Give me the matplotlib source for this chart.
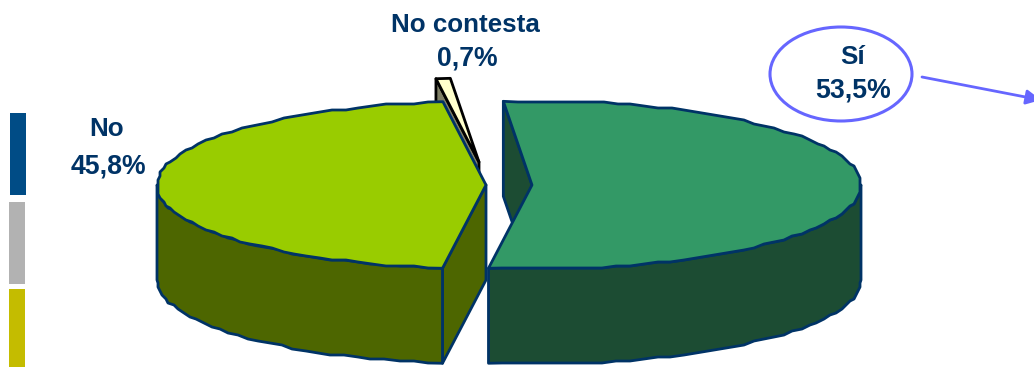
import numpy as np
import matplotlib
matplotlib.use('Agg')
import matplotlib.pyplot as plt
from matplotlib.patches import Polygon, Ellipse, Rectangle

plt.rcParams['font.family'] = ['Liberation Sans', 'DejaVu Sans']

# datos
categorias = ['Sí', 'No', 'No contesta']
valores = [53.5, 45.8, 0.7]
angulo_inicio = 95

NAVY = '#003366'
RX, RY, DEPTH = 329, 84, 95

fig = plt.figure(figsize=(10.34, 3.67), dpi=100)
ax = fig.add_axes([0, 0, 1, 1])
ax.set_xlim(0, 1034)
ax.set_ylim(367, 0)
ax.axis('off')

# angulos de cada porcion, sentido horario
barridos = np.array(valores) * 3.6
fin = angulo_inicio - np.cumsum(barridos)
ini = np.concatenate(([angulo_inicio], fin[:-1]))


def punto(cx, cy, ang, dz=0):
    r = np.radians(ang)
    return cx + RX * np.cos(r), cy - RY * np.sin(r) + dz


def arco(cx, cy, a0, a1, dz=0):
    # borde un poco escalonado, como en el original
    n = max(int(abs(a1 - a0) / 2.5), 1)
    t = np.linspace(a0, a1, n + 1)
    x, y = punto(cx, cy, t, dz)
    x2, y2 = np.round(x / 2) * 2, np.round(y / 2) * 2
    x2[[0, -1]], y2[[0, -1]] = x[[0, -1]], y[[0, -1]]
    return np.column_stack([x2, y2])


def cara(puntos, color, borde=NAVY, lw=2):
    ax.add_patch(Polygon(puntos, closed=True, facecolor=color, edgecolor=borde,
                         lw=lw, joinstyle='round'))


def radial(cx, cy, ang, color, borde=NAVY):
    p = punto(cx, cy, ang)
    cara([p, (cx, cy), (cx, cy + DEPTH), (p[0], p[1] + DEPTH)], color, borde)


def pared(cx, cy, a0, a1, color):
    sup = arco(cx, cy, a0, a1)
    inf = sup + [0, DEPTH]
    cara(np.vstack([sup, inf[::-1]]), color)


def tapa(cx, cy, a0, a1, color, borde=NAVY):
    cara(np.vstack([[(cx, cy)], arco(cx, cy, a0, a1)]), color, borde)


# No contesta (queda detras)
cx, cy = 479, 162
radial(cx, cy, ini[2], '#808066', 'black')
tapa(cx, cy, ini[2], fin[2], '#FFFFCC', 'black')

# No
cx, cy = 486, 185
radial(cx, cy, ini[1], '#4D6600')
pared(cx, cy, -180, ini[1], '#4D6600')
tapa(cx, cy, ini[1], fin[1], '#99CC00')

# Sí
cx, cy = 532, 185
radial(cx, cy, ini[0], '#1C4C33')
pared(cx, cy, fin[0], 0, '#1C4C33')
tapa(cx, cy, ini[0], fin[0], '#339966')

# barras de la izquierda
ax.add_patch(Rectangle((10, 113), 16, 82, color='#004C86', lw=0))
ax.add_patch(Rectangle((9, 202), 16, 82, color='#B2B2B2', lw=0))
ax.add_patch(Rectangle((9, 289), 16, 78, color='#C4BC00', lw=0))


def pct(v):
    return f'{v:.1f}%'.replace('.', ',')


estilo = dict(color=NAVY, fontweight='bold', ha='center', va='center')
ax.text(465, 25, categorias[2], fontsize=18.7, **estilo)
ax.text(467, 59, pct(valores[2]), fontsize=19.2, **estilo)
ax.text(853, 57, categorias[0], fontsize=18.7, **estilo)
ax.text(853, 91, pct(valores[0]), fontsize=19.2, **estilo)
ax.text(107, 129, categorias[1], fontsize=18.7, **estilo)
ax.text(108, 166, pct(valores[1]), fontsize=19.2, **estilo)

# globo y flecha
ax.add_patch(Ellipse((841, 74), 142, 94, facecolor='none', edgecolor='#6666FF', lw=2.2))
ax.annotate('', xy=(1041, 100), xytext=(922, 77), annotation_clip=False,
            arrowprops=dict(arrowstyle='-|>', color='#6666FF', lw=2, mutation_scale=22,
                            shrinkA=0, shrinkB=0))

fig.savefig('out.png', dpi=100, facecolor='white')
